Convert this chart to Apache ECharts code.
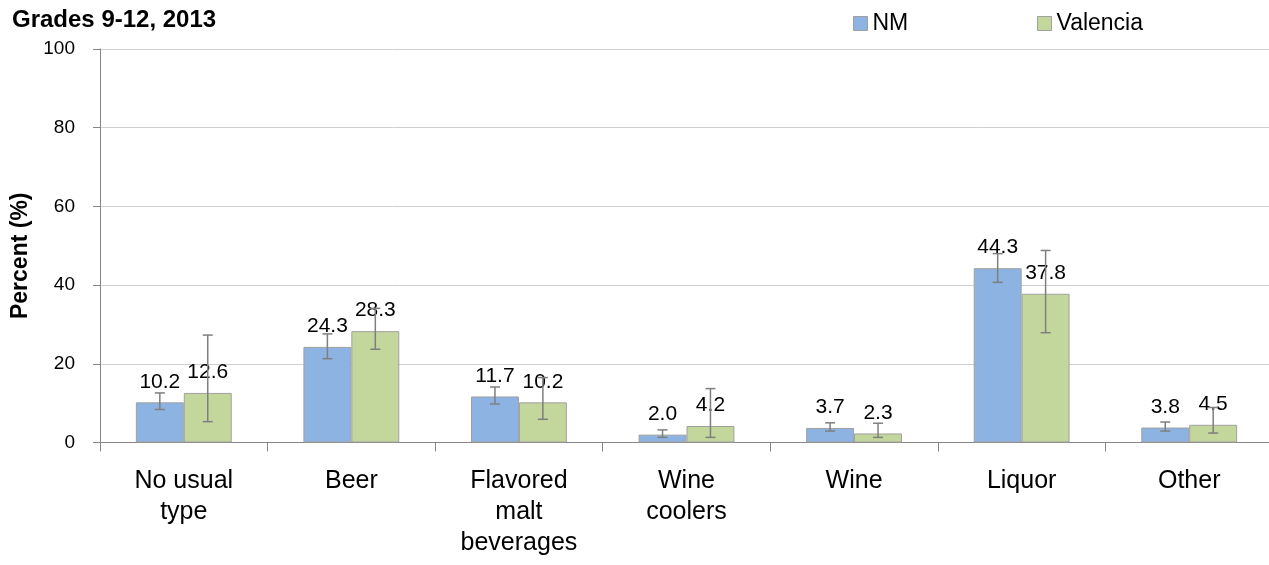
<!DOCTYPE html>
<html>
<head>
<meta charset="utf-8">
<title>Usual type of alcohol, Grades 9-12, 2013</title>
<script src="https://cdn.jsdelivr.net/npm/echarts@6/dist/echarts.min.js"></script>
<style>
  html, body { margin: 0; padding: 0; background: #ffffff; }
  #chart { width: 1269px; height: 565px; }
</style>
</head>
<body>
<div id="chart"></div>
<script>
// Usual type of alcohol consumed, percent of students
const categories = ['No usual\ntype', 'Beer', 'Flavored\nmalt\nbeverages', 'Wine\ncoolers', 'Wine', 'Liquor', 'Other'];
const seriesNames = ['NM', 'Valencia'];
const nmValues = [10.2, 24.3, 11.7, 2.0, 3.7, 44.3, 3.8];
const valenciaValues = [12.6, 28.3, 10.2, 4.2, 2.3, 37.8, 4.5];
// 95% confidence intervals [low, high]
const nmCI = [[8.4, 12.6], [21.3, 27.6], [9.8, 14.1], [1.3, 3.2], [2.9, 5.0], [40.7, 48.0], [2.9, 5.2]];
const valenciaCI = [[5.3, 27.3], [23.7, 34.1], [5.9, 16.5], [1.3, 13.7], [1.3, 4.9], [27.9, 48.8], [2.4, 8.9]];
const yTicks = [0, 20, 40, 60, 80, 100];

const colors = ['#8db3e2', '#c3d69b'];
const BAR_FRACTION = 0.286; // bar width as a share of the category band
const FONT = '"Liberation Sans", Arial, sans-serif';

const chart = echarts.init(document.getElementById('chart'), null, { renderer: 'canvas' });

function errorBarSeries(ci, index) {
  return {
    type: 'custom',
    name: seriesNames[index] + ' CI',
    z: 5,
    silent: true,
    data: ci.map((r, i) => [i, r[0], r[1]]),
    encode: { x: 0, y: [1, 2] },
    renderItem: function (params, api) {
      const band = api.size([1, 0])[0];
      const bw = band * BAR_FRACTION;
      const offset = (index - 0.5) * bw;
      const lo = api.coord([api.value(0), api.value(1)]);
      const hi = api.coord([api.value(0), api.value(2)]);
      const x = lo[0] + offset;
      const cap = 5;
      const style = { stroke: '#7f7f7f', lineWidth: 1.5 };
      return {
        type: 'group',
        children: [
          { type: 'line', shape: { x1: x, y1: lo[1], x2: x, y2: hi[1] }, style: style },
          { type: 'line', shape: { x1: x - cap, y1: lo[1], x2: x + cap, y2: lo[1] }, style: style },
          { type: 'line', shape: { x1: x - cap, y1: hi[1], x2: x + cap, y2: hi[1] }, style: style }
        ]
      };
    }
  };
}

function barSeries(values, index) {
  return {
    type: 'bar',
    name: seriesNames[index],
    data: values,
    barWidth: (BAR_FRACTION * 100) + '%',
    barGap: '0%',
    itemStyle: { color: colors[index], borderColor: '#a0a0a0', borderWidth: 1 },
    label: {
      show: true,
      position: 'top',
      distance: 10,
      color: '#000',
      fontFamily: FONT,
      fontSize: 21,
      formatter: p => p.value.toFixed(1)
    },
    z: 2
  };
}

function legendFor(name, left) {
  return {
    data: [name],
    left: left,
    top: 7,
    itemWidth: 14,
    itemHeight: 14,
    icon: 'rect',
    itemStyle: { borderColor: '#a0a0a0', borderWidth: 1 },
    textStyle: { color: '#000', fontFamily: FONT, fontSize: 23 },
    selectedMode: false
  };
}

chart.setOption({
  animation: false,
  textStyle: { fontFamily: FONT },
  title: {
    text: 'Grades 9-12, 2013',
    left: 7,
    top: 3,
    textStyle: { fontFamily: FONT, fontSize: 24, fontWeight: 'bold', color: '#000' }
  },
  legend: [legendFor('NM', 848), legendFor('Valencia', 1032)],
  grid: { left: 100, top: 49, width: 1173, bottom: 122.5, containLabel: false, outerBoundsMode: 'none' },
  xAxis: {
    type: 'category',
    data: categories,
    axisLine: { lineStyle: { color: '#868686', width: 1 } },
    axisTick: { show: true, length: 9, interval: 0, lineStyle: { color: '#868686' } },
    axisLabel: {
      interval: 0,
      color: '#000',
      fontFamily: FONT,
      fontSize: 25,
      lineHeight: 31,
      margin: 23
    }
  },
  yAxis: {
    type: 'value',
    min: yTicks[0],
    max: yTicks[yTicks.length - 1],
    interval: 20,
    name: 'Percent (%)',
    nameLocation: 'middle',
    nameGap: 60,
    nameTextStyle: { fontFamily: FONT, fontSize: 23, fontWeight: 'bold', color: '#000', padding: [0, 0, 0, -20] },
    axisLine: { show: true, lineStyle: { color: '#868686', width: 1 } },
    axisTick: { show: true, length: 7, lineStyle: { color: '#868686' } },
    axisLabel: { color: '#000', fontFamily: FONT, fontSize: 19, margin: 25 },
    splitLine: { lineStyle: { color: '#cfcfcf', width: 1 } }
  },
  series: [
    barSeries(nmValues, 0),
    barSeries(valenciaValues, 1),
    errorBarSeries(nmCI, 0),
    errorBarSeries(valenciaCI, 1)
  ]
});
</script>
</body>
</html>
